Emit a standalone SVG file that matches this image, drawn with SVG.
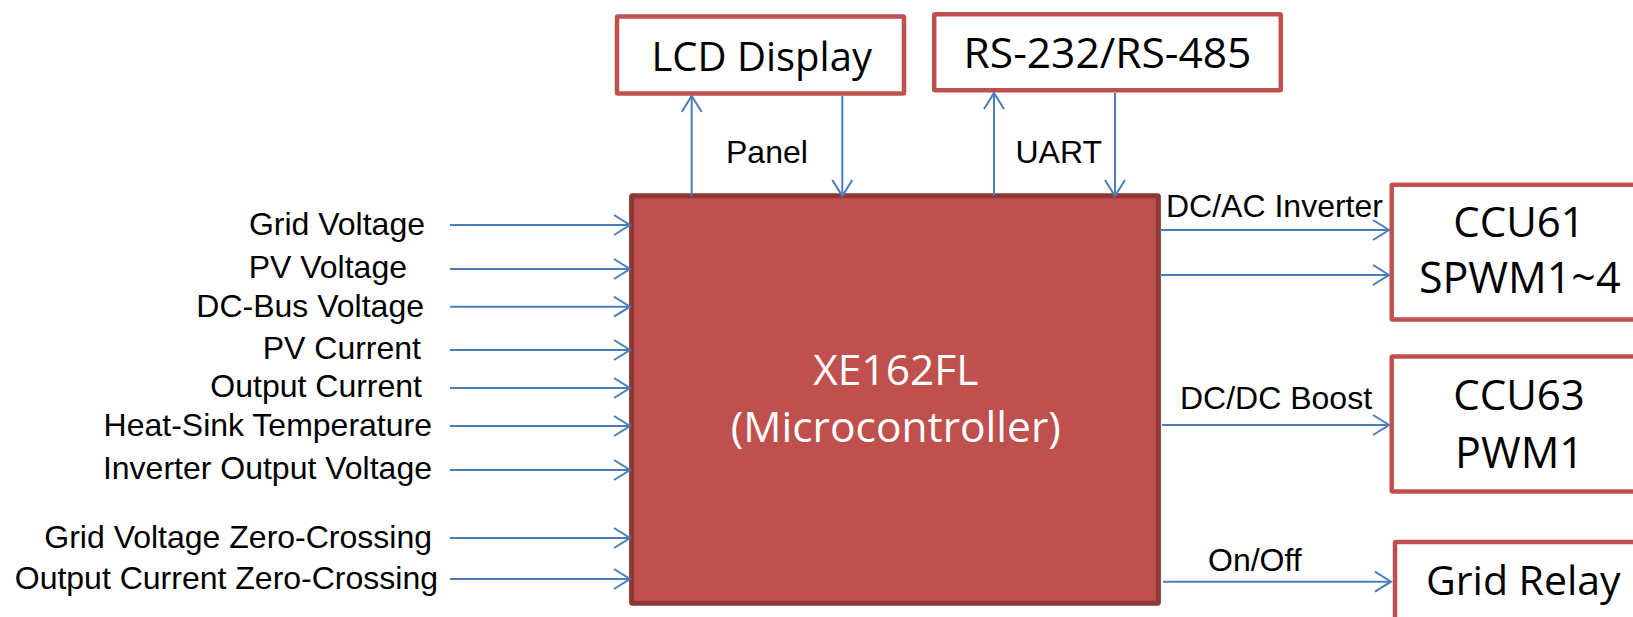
<svg xmlns="http://www.w3.org/2000/svg" width="1633" height="617" viewBox="0 0 1633 617">
  <style>
    .box { fill: #ffffff; stroke: #c0504d; stroke-width: 4.5; }
    .main { fill: #c0504d; stroke: #8c3836; stroke-width: 5; }
    .blabel { font-family: "Open Sans", "Noto Sans", sans-serif; font-size: 42px; fill: #000000; text-anchor: middle; }
    .mlabel { font-family: "Open Sans", "Noto Sans", sans-serif; font-size: 42.5px; fill: #ffffff; text-anchor: middle; }
    .sig { font-family: "Liberation Sans", Arial, sans-serif; font-size: 32px; fill: #000000; }
    .in { text-anchor: end; }
    .wire { stroke: #4a7ebb; stroke-width: 2; fill: none; marker-end: url(#arr); }
  </style>
  <defs>
    <marker id="arr" markerUnits="userSpaceOnUse" markerWidth="22" markerHeight="24" refX="18" refY="11" orient="auto">
      <path d="M2,1 L18,11 L2,21" fill="none" stroke="#4a7ebb" stroke-width="2"/>
    </marker>
  </defs>

  <g id="lcd">
    <rect class="box" x="617" y="16.5" width="287" height="77" rx="1"/>
    <text class="blabel" x="761.7" y="70.7" style="font-size:40px">LCD Display</text>
  </g>
  <g id="rs">
    <rect class="box" x="934.2" y="14.2" width="346.6" height="76" rx="1"/>
    <text class="blabel" x="1107.5" y="67.7" style="font-size:42.5px">RS-232/RS-485</text>
  </g>
  <g id="mcu">
    <rect class="main" x="631.6" y="195.8" width="526.8" height="407.5" rx="1"/>
    <text class="mlabel" x="895.8" y="385">XE162FL</text>
    <text class="mlabel" x="895.8" y="441.7">(Microcontroller)</text>
  </g>
  <g id="ccu61">
    <rect class="box" x="1391.7" y="184.7" width="300" height="134.8" rx="1"/>
    <text class="blabel" x="1519" y="236.7">CCU61</text>
    <text class="blabel" x="1519.7" y="293.3" style="font-size:43px">SPWM1~4</text>
  </g>
  <g id="ccu63">
    <rect class="box" x="1391.7" y="356.5" width="300" height="135" rx="1"/>
    <text class="blabel" x="1519" y="410">CCU63</text>
    <text class="blabel" x="1519.5" y="468.3" style="font-size:43px">PWM1</text>
  </g>
  <g id="relay">
    <rect class="box" x="1395" y="542" width="300" height="100" rx="1"/>
    <text class="blabel" x="1523.3" y="595" style="font-size:41px">Grid Relay</text>
  </g>

  <g id="connectors">
    <line class="wire" x1="450" y1="225" x2="630" y2="225"/>
    <line class="wire" x1="450" y1="269" x2="630" y2="269"/>
    <line class="wire" x1="450" y1="306.7" x2="630" y2="306.7"/>
    <line class="wire" x1="450" y1="350" x2="630" y2="350"/>
    <line class="wire" x1="450" y1="388" x2="630" y2="388"/>
    <line class="wire" x1="450" y1="426" x2="630" y2="426"/>
    <line class="wire" x1="450" y1="470" x2="630" y2="470"/>
    <line class="wire" x1="450" y1="538" x2="630" y2="538"/>
    <line class="wire" x1="450" y1="579" x2="630" y2="579"/>

    <line class="wire" x1="691.7" y1="196" x2="691.7" y2="96"/>
    <line class="wire" x1="842.3" y1="96" x2="842.3" y2="196"/>
    <line class="wire" x1="994" y1="196" x2="994" y2="93"/>
    <line class="wire" x1="1115" y1="93" x2="1115" y2="196"/>

    <line class="wire" x1="1160" y1="230" x2="1389" y2="230"/>
    <line class="wire" x1="1160" y1="275" x2="1389" y2="275"/>
    <line class="wire" x1="1162" y1="425" x2="1389" y2="425"/>
    <line class="wire" x1="1163" y1="581.7" x2="1391" y2="581.7"/>

    <text class="sig" x="726" y="163.3">Panel</text>
    <text class="sig" x="1015.5" y="163.3">UART</text>
    <text class="sig" x="1166" y="216.7">DC/AC Inverter</text>
    <text class="sig" x="1180" y="409.3">DC/DC Boost</text>
    <text class="sig" x="1208" y="571">On/Off</text>

    <text class="sig in" x="425" y="235">Grid Voltage</text>
    <text class="sig in" x="407" y="278">PV Voltage</text>
    <text class="sig in" x="424" y="316.5">DC-Bus Voltage</text>
    <text class="sig in" x="421" y="358.5">PV Current</text>
    <text class="sig in" x="422" y="397">Output Current</text>
    <text class="sig in" x="432" y="435.5">Heat-Sink Temperature</text>
    <text class="sig in" x="432" y="479">Inverter Output Voltage</text>
    <text class="sig in" x="432" y="548">Grid Voltage Zero-Crossing</text>
    <text class="sig in" x="438" y="589">Output Current Zero-Crossing</text>
  </g>
</svg>
